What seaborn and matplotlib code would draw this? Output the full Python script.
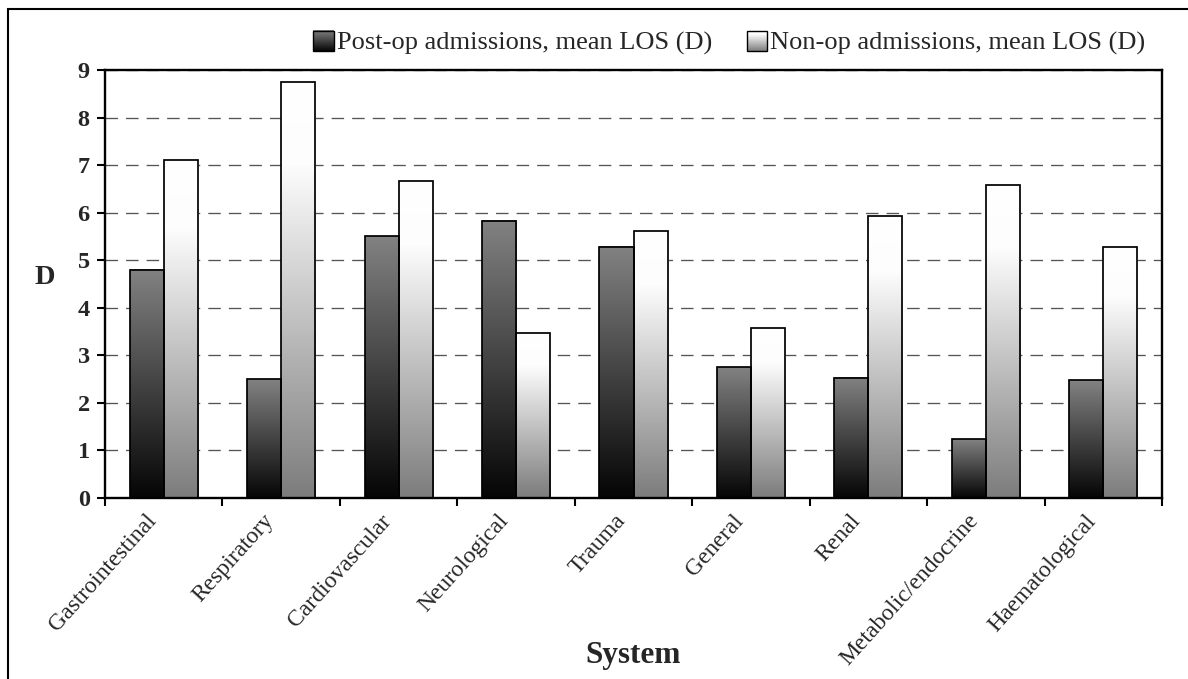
import numpy as np
import pandas as pd
import matplotlib
matplotlib.use("Agg")
import matplotlib.pyplot as plt
import seaborn as sns
from matplotlib.patches import Rectangle
from matplotlib.colors import LinearSegmentedColormap
from matplotlib.legend_handler import HandlerBase
from matplotlib.image import BboxImage
from matplotlib.transforms import Bbox, TransformedBbox, ScaledTranslation
from matplotlib.ticker import FixedLocator

# Mean length of stay (days) by admission system
systems = ["Gastrointestinal", "Respiratory", "Cardiovascular", "Neurological",
           "Trauma", "General", "Renal", "Metabolic/endocrine", "Haematological"]
post_op_los = [4.80, 2.50, 5.50, 5.83, 5.28, 2.75, 2.53, 1.24, 2.48]
non_op_los = [7.10, 8.75, 6.66, 3.47, 5.61, 3.57, 5.93, 6.58, 5.28]
series_names = ["Post-op admissions, mean LOS (D)", "Non-op admissions, mean LOS (D)"]
y_ticks = list(range(0, 10))

df = pd.DataFrame({
    "System": systems * 2,
    "LOS": post_op_los + non_op_los,
    "Series": [series_names[0]] * len(systems) + [series_names[1]] * len(systems),
})

sns.set_theme(style="white")
plt.rcParams["font.family"] = ["Liberation Serif", "DejaVu Serif"]
plt.rcParams["lines.scale_dashes"] = False

W, H = 1188, 679
fig = plt.figure(figsize=(W / 100, H / 100), dpi=100)
fig.patch.set_facecolor("white")
ax = fig.add_axes([105 / W, 1 - 498 / H, (1162 - 105) / W, (498 - 70) / H])

# vertical gradients: dark series goes black -> grey, light series grey -> white
cmap_post = LinearSegmentedColormap.from_list("post", ["#050505", "#828282"])
cmap_non = LinearSegmentedColormap.from_list(
    "non", [(0.0, "#7c7c7c"), (0.8, "#fdfdfd"), (1.0, "#ffffff")])
cmaps = [cmap_post, cmap_non]

sns.barplot(data=df, x="System", y="LOS", hue="Series", order=systems,
            hue_order=series_names, palette=["#404040", "#c0c0c0"],
            width=0.58, gap=0, saturation=1, edgecolor="black",
            linewidth=1.25, legend=False, ax=ax, zorder=3)

grad = np.linspace(0, 1, 256).reshape(-1, 1)
for container, cmap in zip(ax.containers, cmaps):
    for bar in container:
        x0 = bar.get_x()
        w = bar.get_width()
        h = bar.get_height()
        ax.imshow(grad, extent=[x0, x0 + w, 0, h], origin="lower", cmap=cmap,
                  aspect="auto", interpolation="bilinear", zorder=2.5)
        bar.set_facecolor("none")

ax.set_xlim(-0.5, len(systems) - 0.5)
ax.set_ylim(0, 9)

# grid and frame
ax.set_axisbelow(True)
ax.yaxis.grid(True, color="#555555", linewidth=0.95, linestyle=(0, (9, 5.8)))
ax.xaxis.grid(False)
for sp in ax.spines.values():
    sp.set_visible(True)
    sp.set_color("black")
    sp.set_linewidth(1.7)
    sp.set_zorder(5)

ax.set_yticks(y_ticks)
ax.set_yticklabels([str(t) for t in y_ticks], fontsize=17.5, fontweight="bold")
ax.tick_params(axis="y", which="major", direction="out", length=6,
               width=1.5, color="black", pad=5, left=True)

ax.xaxis.set_minor_locator(FixedLocator(np.arange(-0.5, len(systems), 1.0)))
ax.tick_params(axis="x", which="minor", direction="out", length=6, width=1.5,
               color="black", bottom=True)
ax.tick_params(axis="x", which="major", length=0, pad=14)
ax.set_xticks(range(len(systems)))
ax.set_xticklabels(systems, fontsize=17, rotation=48, ha="right",
                   va="center", rotation_mode="anchor")
shift = ScaledTranslation(-11 / 100, 0, fig.dpi_scale_trans)
for lab in ax.get_xticklabels():
    lab.set_transform(lab.get_transform() + shift)

ax.set_xlabel("System", fontsize=22.5, fontweight="bold")
ax.xaxis.label.set_va("baseline")
ax.xaxis.set_label_coords(0.5, -(663 - 498) / 428)
ax.set_ylabel("D", fontsize=20.5, fontweight="bold", rotation=0,
              ha="center", va="center")
ax.yaxis.set_label_coords(-(105 - 45) / 1057, (498 - 278) / 428)


class GradientSquare(HandlerBase):
    def __init__(self, cmap):
        super().__init__()
        self.cmap = cmap

    def create_artists(self, legend, orig_handle, xdescent, ydescent,
                       width, height, fontsize, trans):
        size = min(width, height)
        x0 = -xdescent + (width - size) / 2
        y0 = -ydescent + (height - size) / 2
        box = TransformedBbox(Bbox.from_bounds(x0, y0, size, size), trans)
        img = BboxImage(box, cmap=self.cmap, origin="lower",
                        interpolation="bilinear")
        img.set_data(grad)
        img.set_clim(0, 1)
        edge = Rectangle((x0, y0), size, size, facecolor="none",
                         edgecolor="black", linewidth=1.0, transform=trans)
        return [img, edge]


handles = [Rectangle((0, 0), 1, 1), Rectangle((0, 0), 1, 1)]
fig.legend(handles, series_names, loc="center",
           bbox_to_anchor=(729 / W, 1 - 43 / H), ncol=2, frameon=False,
           fontsize=19, handlelength=0.8, handleheight=0.8,
           handletextpad=0.1, columnspacing=1.3, borderaxespad=0,
           handler_map={handles[0]: GradientSquare(cmap_post),
                        handles[1]: GradientSquare(cmap_non)})

# outer chart border
fig.add_artist(Rectangle((8 / W, -1), 2, 2 - 9 / H, transform=fig.transFigure,
                         fill=False, edgecolor="black", linewidth=1.5))

fig.savefig("out.png", dpi=100, facecolor="white")
